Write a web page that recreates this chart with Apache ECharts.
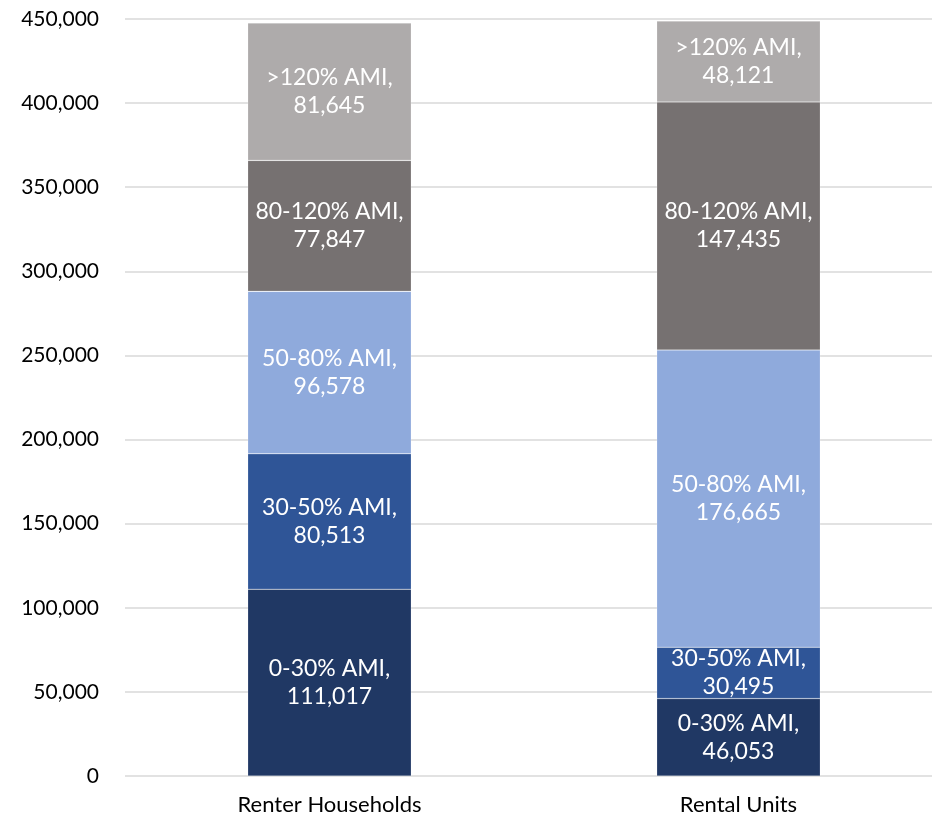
<!DOCTYPE html>
<html>
<head>
<meta charset="utf-8">
<script src="https://cdn.jsdelivr.net/npm/echarts@6/dist/echarts.min.js"></script>
<style>
  html, body { margin: 0; padding: 0; background: #fff; }
  #chart { width: 932px; height: 822px; }
</style>
</head>
<body>
<div id="chart"></div>
<script>
// categories and stacked series
const categories = ['Renter Households', 'Rental Units']
const seriesNames = ['0-30% AMI', '30-50% AMI', '50-80% AMI', '80-120% AMI', '>120% AMI']
const ami0to30 = [111017, 46053]
const ami30to50 = [80513, 30495]
const ami50to80 = [96578, 176665]
const ami80to120 = [77847, 147435]
const amiOver120 = [81645, 48121]
const yTicks = [0, 50000, 100000, 150000, 200000, 250000, 300000, 350000, 400000, 450000]

const seriesData = [ami0to30, ami30to50, ami50to80, ami80to120, amiOver120]
const colors = ['#203864', '#2F5597', '#8FAADC', '#767171', '#AEABAB']
const font = 'Lato, "Noto Sans", sans-serif'

const fmt = (v) => Number(v).toLocaleString('en-US')

const chart = echarts.init(document.getElementById('chart'))

const option = {
  animation: false,
  color: colors,
  grid: {
    left: 125,
    width: 818, // the plot runs past the right edge of the canvas
    top: 19,
    bottom: 46,
    containLabel: false,
    outerBoundsMode: 'none',
  },
  xAxis: {
    type: 'category',
    data: categories,
    axisLine: { show: false },
    axisTick: { show: false },
    axisLabel: {
      color: '#000',
      fontFamily: font,
      fontSize: 22,
      margin: 18,
    },
  },
  yAxis: {
    type: 'value',
    min: yTicks[0],
    max: yTicks[yTicks.length - 1],
    interval: 50000,
    axisLine: { show: false },
    axisTick: { show: false },
    axisLabel: {
      color: '#000',
      fontFamily: font,
      fontSize: 21,
      margin: 26,
      formatter: (v) => fmt(v),
    },
    splitLine: {
      lineStyle: { color: '#D9D9D9', width: 1.5 },
    },
  },
  series: seriesNames.map((name, i) => ({
    name: name,
    type: 'bar',
    stack: 'total',
    barWidth: '40%',
    data: seriesData[i],
    itemStyle: {
      color: colors[i],
      borderColor: 'rgba(255,255,255,0.3)',
      borderWidth: 0.6,
    },
    label: {
      show: true,
      position: 'inside',
      color: '#fff',
      fontFamily: font,
      fontSize: 23,
      lineHeight: 28,
      formatter: (p) => p.seriesName + ',\n' + fmt(p.value),
    },
  })),
}

chart.setOption(option)
</script>
</body>
</html>
